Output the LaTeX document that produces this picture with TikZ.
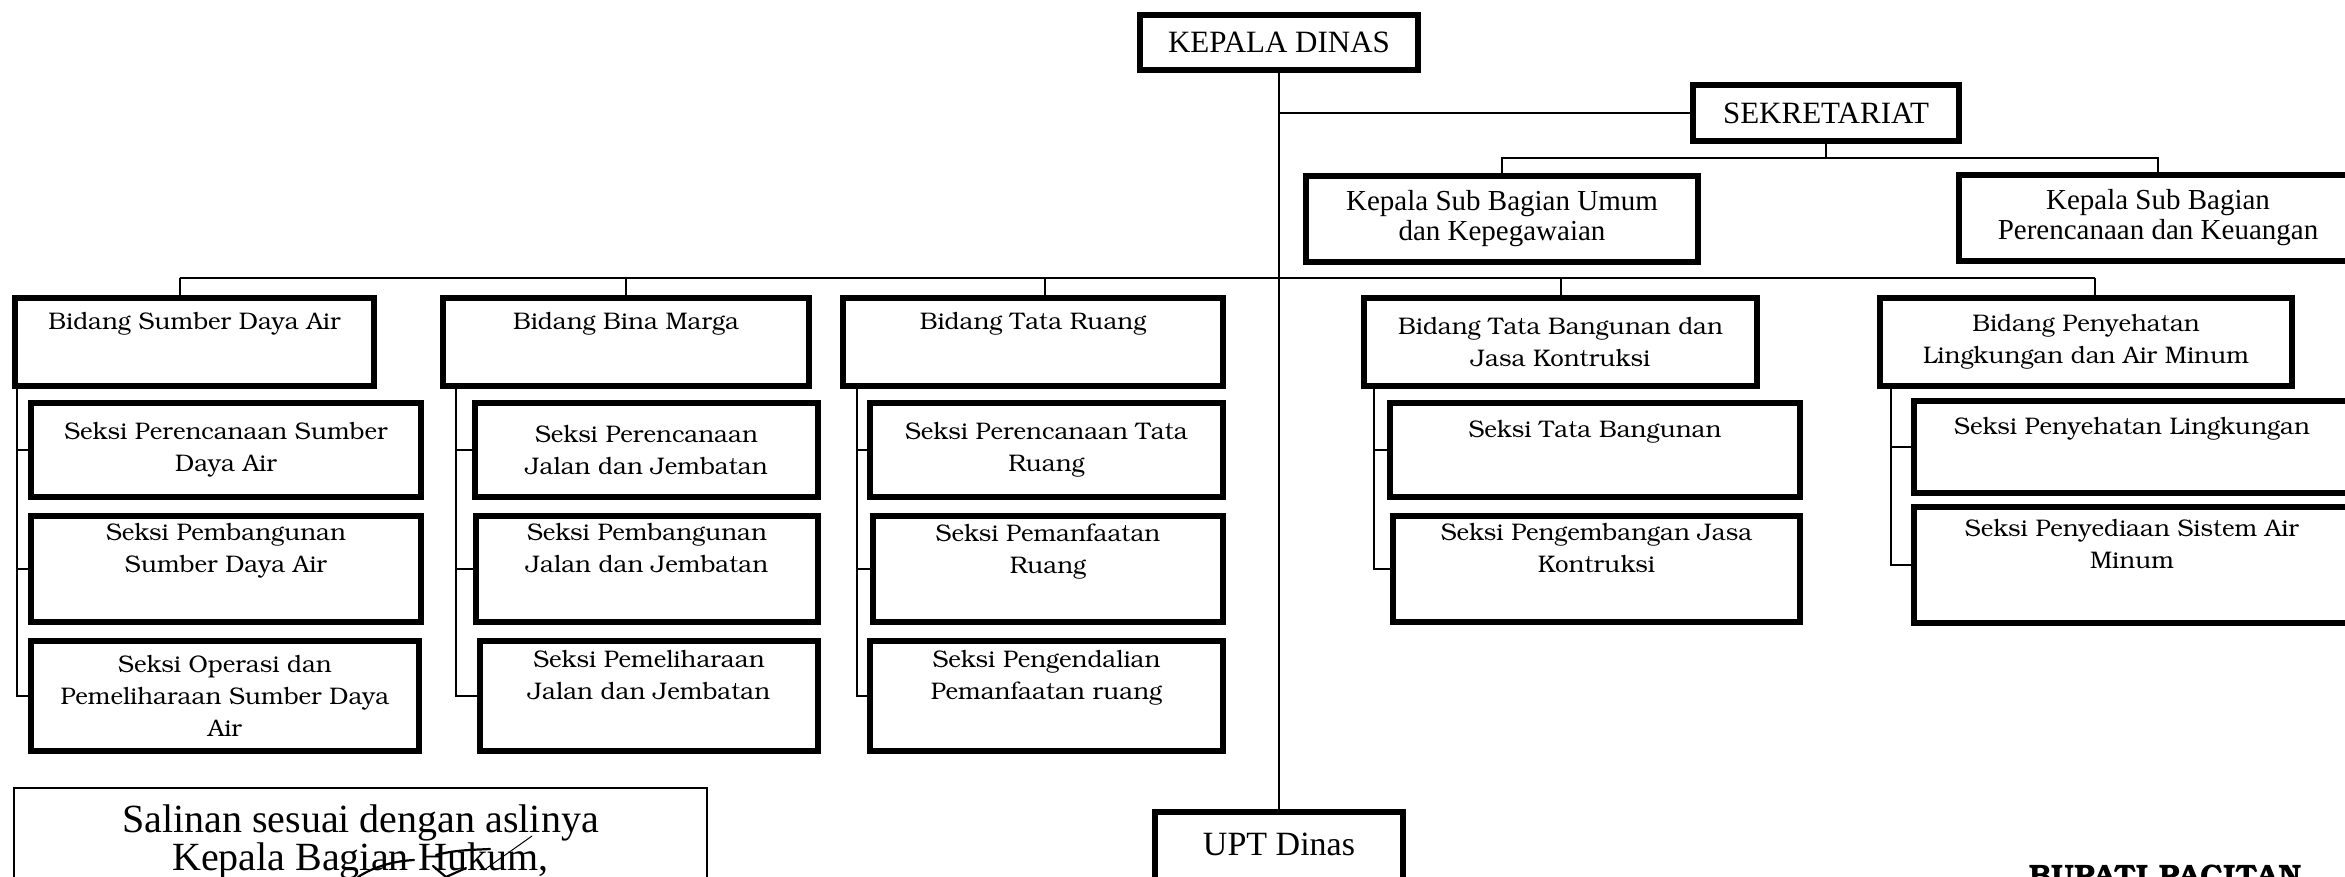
\documentclass[tikz,border=0pt]{standalone}
\usepackage[T1]{fontenc}
\usepackage{fontspec}
\setmainfont{Liberation Serif}
\usetikzlibrary{calc}
\newcommand{\bkfont}{\fontencoding{T1}\fontfamily{pbk}\selectfont}
\tikzset{
  % one pixel of the scan is half a point, y runs downwards
  every picture/.append style = {x=0.5pt, y=-0.5pt},
  wh/.style 2 args = {minimum width=#1*0.5pt, minimum height=#2*0.5pt},
  chief/.style    = {draw, line width=2.8pt, inner sep=0pt, align=center,
                     font=\fontsize{15.5}{18}\selectfont},
  subbag/.style   = {draw, line width=2.8pt, inner sep=0pt, align=center,
                     font=\fontsize{14.5}{15}\selectfont},
  unit/.style     = {draw, line width=2.8pt, inner sep=0pt, align=center,
                     font=\bkfont\fontsize{12}{16}\selectfont},
  link/.style     = {line width=1pt},
  sign/.style     = {line width=1.1pt, line cap=round},
}

\begin{document}
\begin{tikzpicture}
  \useasboundingbox (0,0) rectangle (2345,877);
  \clip (0,0) rectangle (2345,877);

  % head and secretariat
  \node[chief, wh={278}{55}] (kd) at (1279,42.5) {KEPALA DINAS};
  \node[chief, wh={266}{56}] (sek) at (1826,113) {SEKRETARIAT};
  \node[subbag, wh={392}{86}] (umum) at (1502,219) {Kepala Sub Bagian Umum\\dan Kepegawaian};
  \node[subbag, wh={398}{86}] (keu) at (2158,218) {Kepala Sub Bagian\\Perencanaan dan Keuangan};

  % bidang
  \node[unit, wh={359}{88}] (sda) at (194.5,342) {Bidang Sumber Daya Air\\\strut};
  \node[unit, wh={366}{88}] (bm) at (626,342) {Bidang Bina Marga\\\strut};
  \node[unit, wh={380}{88}] (tr) at (1033,342) {Bidang Tata Ruang\\\strut};
  \node[unit, wh={393}{88}] (tb) at (1560.5,342) {Bidang Tata Bangunan dan\\Jasa Kontruksi};
  \node[unit, wh={412}{88}] (pal) at (2086,342) {Bidang Penyehatan\\Lingkungan dan Air Minum};

  % seksi
  \node[unit, wh={390}{94}] (s11) at (226,450) {Seksi Perencanaan Sumber\\Daya Air};
  \node[unit, wh={390}{106}] (s12) at (226,569) {Seksi Pembangunan\\Sumber Daya Air\\\strut};
  \node[unit, wh={388}{110}] (s13) at (225,696) {Seksi Operasi dan\\Pemeliharaan Sumber Daya\\Air};
  \node[unit, wh={343}{94}] (s21) at (646.5,450) {Seksi Perencanaan\\Jalan dan Jembatan};
  \node[unit, wh={342}{106}] (s22) at (647,569) {Seksi Pembangunan\\Jalan dan Jembatan\\\strut};
  \node[unit, wh={338}{110}] (s23) at (649,696) {Seksi Pemeliharaan\\Jalan dan Jembatan\\\strut};
  \node[unit, wh={353}{94}] (s31) at (1046.5,450) {Seksi Perencanaan Tata\\Ruang};
  \node[unit, wh={350}{106}] (s32) at (1048,569) {Seksi Pemanfaatan\\Ruang\\\strut};
  \node[unit, wh={353}{110}] (s33) at (1046.5,696) {Seksi Pengendalian\\Pemanfaatan ruang\\\strut};
  \node[unit, wh={410}{94}] (s41) at (1595,450) {Seksi Tata Bangunan\\\strut};
  \node[unit, wh={407}{106}] (s42) at (1596.5,569) {Seksi Pengembangan Jasa\\Kontruksi\\\strut};
  \node[unit, wh={436}{92}] (s51) at (2132,447) {Seksi Penyehatan Lingkungan\\\strut};
  \node[unit, wh={436}{116}] (s52) at (2132,565) {Seksi Penyediaan Sistem Air\\Minum\\\strut};

  % bottom row
  \node[chief, minimum width=248*0.5pt, inner ysep=10.5pt, anchor=north,
        font=\fontsize{17}{22}\selectfont] (upt) at (1279,809) {UPT Dinas\\\strut};
  \node[draw, line width=0.8pt, minimum width=693*0.5pt, inner xsep=0pt, inner ysep=8.5pt,
        anchor=north, align=center, font=\fontsize{20}{17}\selectfont] (salin) at (360.5,787)
       {Salinan sesuai dengan aslinya\\Kepala Bagian Hukum,\\\strut};
  \node[anchor=base, font=\bkfont\bfseries\fontsize{15.5}{18}\selectfont] (bupati) at (2165,886) {BUPATI PACITAN};

  % lines of command
  \draw[link] (kd.south) -- (upt.north);
  \draw[link] (sek.west) -- (sek.west -| kd.south);
  \draw[link] (sek.south) -- ++(0,14) coordinate (sekbar);
  \draw[link] (umum.north) |- (sekbar) -| (keu.north);

  \coordinate (bar) at (1279,278);
  \draw[link] ($(sda.north |- bar)+(-15,0)$) -- ($(pal.north |- bar)+(9,0)$);
  \foreach \b/\dx in {sda/-15, bm/0, tr/12, tb/0, pal/9}
    \draw[link] ($(\b.north)+(\dx,0)$) -- ($(\b.north |- bar)+(\dx,0)$);

  \foreach \b/\s/\dx in {sda/s11/5, sda/s12/5, sda/s13/5, bm/s21/16, bm/s22/16, bm/s23/16,
      tr/s31/17, tr/s32/17, tr/s33/17, tb/s41/13, tb/s42/13, pal/s51/14, pal/s52/14}
    \draw[link] ($(\b.south west)+(\dx,0)$) |- (\s.west);

  % start of the signature
  \draw[sign] (436,855) .. controls (455,850) and (470,850) .. (490,849);
  \draw[sign, line width=0.5pt] (484,870) -- (532,836);
  \draw[sign] (358,877) .. controls (375,866) and (395,861) .. (414,860);
  \draw[sign] (433,866) -- (446,877) -- (466,868);
\end{tikzpicture}
\end{document}
